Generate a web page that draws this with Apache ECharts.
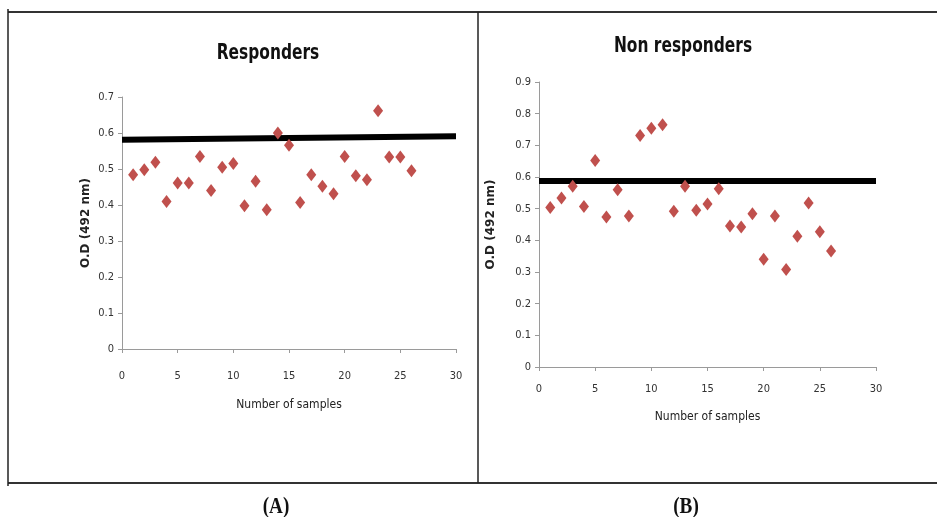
<!DOCTYPE html>
<html lang="en">
<head>
  <meta charset="UTF-8">
  <title>Responders / Non responders</title>
  <style>
    html, body { margin: 0; padding: 0; background: #fff; }
    #chart { width: 937px; height: 517px; }
  </style>
</head>
<body>
  <div id="chart"></div>
  <script src="https://cdn.jsdelivr.net/npm/echarts@6/dist/echarts.min.js"></script>
  <script>
    // sample numbers 1..26
    var samples = [1, 2, 3, 4, 5, 6, 7, 8, 9, 10, 11, 12, 13, 14, 15, 16, 17, 18, 19, 20, 21, 22, 23, 24, 25, 26];
    // O.D values
    var respOD = [0.484, 0.498, 0.519, 0.410, 0.461, 0.461, 0.535, 0.440, 0.505, 0.515, 0.398, 0.466, 0.387,
      0.600, 0.566, 0.407, 0.484, 0.452, 0.431, 0.535, 0.481, 0.470, 0.662, 0.533, 0.533, 0.495];
    var nonRespOD = [0.504, 0.534, 0.571, 0.507, 0.652, 0.474, 0.560, 0.477, 0.731, 0.754, 0.765, 0.492, 0.571,
      0.495, 0.515, 0.563, 0.445, 0.442, 0.484, 0.340, 0.477, 0.308, 0.413, 0.518, 0.427, 0.366];
    // cut-off lines [x, y]
    var respCutoff = [[0, 0.581], [30, 0.591]];
    var nonRespCutoff = [[0, 0.587], [30, 0.587]];
    var titles = ['Responders', 'Non responders'];
    var panelLabels = ['(A)', '(B)'];

    function pairs(xs, ys) {
      return xs.map(function (x, i) { return [x, ys[i]]; });
    }

    var narrow = '"Liberation Sans Narrow", "DejaVu Sans Condensed", sans-serif';

    function xAxis(idx, margin, gap) {
      return {
        gridIndex: idx, type: 'value', min: 0, max: 30, interval: 5,
        name: 'Number of samples', nameLocation: 'middle', nameGap: gap,
        nameTextStyle: { fontFamily: narrow, fontSize: 12, color: '#222' },
        axisLine: { lineStyle: { color: '#9a9a9a' } },
        axisTick: { show: true, length: 4, lineStyle: { color: '#9a9a9a' } },
        axisLabel: { margin: margin, fontFamily: narrow, fontSize: 11, color: '#333' },
        splitLine: { show: false }
      };
    }
    function yAxis(idx, max, gap) {
      return {
        gridIndex: idx, type: 'value', min: 0, max: max, interval: 0.1,
        name: 'O.D (492 nm)', nameLocation: 'middle', nameGap: gap,
        nameTextStyle: { fontFamily: 'DejaVu Sans', fontWeight: 'bold', fontSize: 12, color: '#222' },
        axisLine: { show: true, lineStyle: { color: '#9a9a9a' } },
        axisTick: { show: true, length: 4, lineStyle: { color: '#9a9a9a' } },
        axisLabel: {
          margin: 8, fontFamily: narrow, fontSize: 11, color: '#333',
          formatter: function (v) { return +v.toFixed(1) + ''; }
        },
        splitLine: { show: false }
      };
    }

    // condensed text drawn through graphic so it can be squeezed like the original
    function label(text, x, y, font, sx) {
      return {
        type: 'text', x: x, y: y, scaleX: sx,
        style: { text: text, font: font, fill: '#111', align: 'center', verticalAlign: 'middle' }
      };
    }

    var titleFont = 'bold 22px ' + narrow;
    var panelFont = 'bold 24px "Liberation Serif", serif';

    var chart = echarts.init(document.getElementById('chart'));
    chart.setOption({
      animation: false,
      backgroundColor: '#fff',
      grid: [
        { left: 122, top: 97, width: 334, height: 252 },
        { left: 539, top: 82, width: 337, height: 285 }
      ],
      xAxis: [xAxis(0, 22, 50), xAxis(1, 17, 44)],
      yAxis: [yAxis(0, 0.7, 30), yAxis(1, 0.9, 42)],
      graphic: [
        // frame around the two panels
        { type: 'line', shape: { x1: 8, y1: 12, x2: 937, y2: 12 }, style: { stroke: '#333', lineWidth: 2 } },
        { type: 'line', shape: { x1: 8, y1: 483, x2: 937, y2: 483 }, style: { stroke: '#333', lineWidth: 2 } },
        { type: 'line', shape: { x1: 8, y1: 9, x2: 8, y2: 486 }, style: { stroke: '#222', lineWidth: 1.5 } },
        { type: 'line', shape: { x1: 478, y1: 12, x2: 478, y2: 483 }, style: { stroke: '#222', lineWidth: 1.5 } },
        label(titles[0], 268, 53, titleFont, 0.78),
        label(titles[1], 683, 46, titleFont, 0.78),
        label(panelLabels[0], 276, 507, panelFont, 0.8),
        label(panelLabels[1], 686, 507, panelFont, 0.8)
      ],
      series: [
        { type: 'line', xAxisIndex: 0, yAxisIndex: 0, data: respCutoff, symbol: 'none',
          lineStyle: { color: '#000', width: 6 }, z: 1 },
        { type: 'scatter', xAxisIndex: 0, yAxisIndex: 0, data: pairs(samples, respOD),
          symbol: 'diamond', symbolSize: [10, 13], itemStyle: { color: '#c0504d', opacity: 1 }, z: 2 },
        { type: 'line', xAxisIndex: 1, yAxisIndex: 1, data: nonRespCutoff, symbol: 'none',
          lineStyle: { color: '#000', width: 6 }, z: 1 },
        { type: 'scatter', xAxisIndex: 1, yAxisIndex: 1, data: pairs(samples, nonRespOD),
          symbol: 'diamond', symbolSize: [10, 13], itemStyle: { color: '#c0504d', opacity: 1 }, z: 2 }
      ]
    });
  </script>
</body>
</html>
